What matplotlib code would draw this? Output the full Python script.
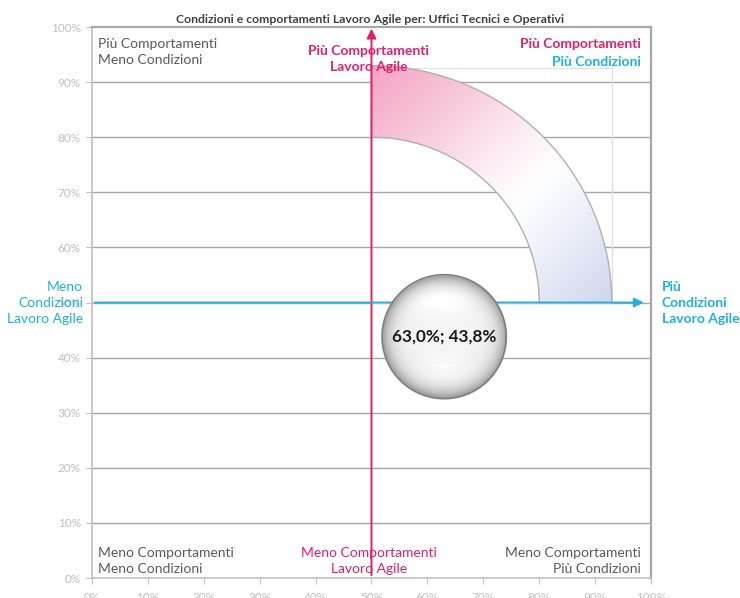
import numpy as np
import matplotlib
matplotlib.use("Agg")
import matplotlib.pyplot as plt
from matplotlib.patches import Wedge, Rectangle
import matplotlib.colors as mcolors

plt.rcParams['font.family'] = ['Lato', 'DejaVu Sans']

title = "Condizioni e comportamenti Lavoro Agile per: Uffici Tecnici e Operativi"
x_ticks = [0, 10, 20, 30, 40, 50, 60, 70, 80, 90, 100]
y_ticks = [0, 10, 20, 30, 40, 50, 60, 70, 80, 90, 100]
tick_labels = ["0%", "10%", "20%", "30%", "40%", "50%", "60%", "70%", "80%", "90%", "100%"]
# bubble value (condizioni, comportamenti)
bubble_x = 63.0
bubble_y = 43.8
bubble_label = "63,0%; 43,8%"
# band of the "target" area
arc_inner = 30
arc_outer = 43

pink = "#e31f6b"
blue = "#1fb0e6"
gray_txt = "#595959"
tick_col = "#bfbfbf"

fig = plt.figure(figsize=(7.4, 5.98), dpi=100)
ax = fig.add_axes([0.1243, 0.0334, 0.7554, 0.9214])
ax.set_xlim(0, 100)
ax.set_ylim(0, 100)

for s in ['left', 'bottom']:
    ax.spines[s].set_color("#bfbfbf")
    ax.spines[s].set_linewidth(1.2)
for s in ['top', 'right']:
    ax.spines[s].set_color("#a6a6a6")
    ax.spines[s].set_linewidth(1.6)

ax.set_xticks(x_ticks)
ax.set_yticks(y_ticks)
ax.set_xticklabels(tick_labels, color=tick_col, fontsize=8.5)
ax.set_yticklabels(tick_labels, color=tick_col, fontsize=8.5)
ax.tick_params(axis='x', length=4, color=tick_col, pad=6)
ax.tick_params(axis='y', length=4, color=tick_col, pad=4)
for y in y_ticks[1:-1]:
    ax.axhline(y, color="#a6a6a6", lw=1.0, zorder=1)

# frame around the band area
ax.add_patch(Rectangle((50, 50), arc_outer, arc_outer - 0.4,
                       fill=False, ec="#e0e0e0", lw=0.9, zorder=1.5))

# gradient band
wedge = Wedge((50, 50), arc_outer, 0, 90, width=arc_outer - arc_inner,
              fc="none", ec="#b0b0b0", lw=1.0, zorder=3)
ax.add_patch(wedge)
gx, gy = np.meshgrid(np.linspace(0, 1, 200), np.linspace(0, 1, 200))
t = np.clip((gx + gy) / 2, 0, 1)
cmap = mcolors.LinearSegmentedColormap.from_list(
    "band", [(0, "#f4a3c3"), (0.25, "#f8cade"), (0.5, "#fdf4f8"), (0.6, "#ffffff"), (1, "#cfd7ec")])
img = ax.imshow(cmap(t), extent=(50, 50 + arc_outer, 50, 50 + arc_outer),
                origin='upper', aspect='auto', zorder=2)
img.set_clip_path(wedge)

# axes arrows
ax.annotate("", xy=(50, 100.2), xytext=(50, 0), zorder=4, annotation_clip=False,
            arrowprops=dict(arrowstyle="-|>", color=pink, lw=1.4, mutation_scale=14))
ax.annotate("", xy=(99.2, 50), xytext=(0, 50), zorder=4, annotation_clip=False,
            arrowprops=dict(arrowstyle="-|>", color=blue, lw=1.4, mutation_scale=14))

# bubble as a shaded sphere
rx = 62 / 5.58
ry = 62 / 5.51
n = 300
u, v = np.meshgrid(np.linspace(-1, 1, n), np.linspace(1, -1, n))
r = np.sqrt(u ** 2 + v ** 2)
shade = 0.96 - 0.36 * r ** 7
hl = np.exp(-((u + 0.05) ** 2 / 0.25 + (v - 0.62) ** 2 / 0.04))
shade = shade + 0.06 * hl
low = np.exp(-((u) ** 2 / 0.3 + (v + 0.6) ** 2 / 0.05))
shade = shade + 0.04 * low - 0.04 * np.clip(-v, 0, 1) * (r > 0.5)
shade = np.clip(shade, 0, 1)
rgba = np.zeros((n, n, 4))
rgba[..., 0] = shade
rgba[..., 1] = shade
rgba[..., 2] = shade
rgba[..., 3] = np.clip((1 - r) * n / 2, 0, 1)
ax.imshow(rgba, extent=(bubble_x - rx, bubble_x + rx, bubble_y - ry, bubble_y + ry),
          aspect='auto', zorder=5, interpolation='bilinear')
th = np.linspace(0, 2 * np.pi, 300)
ax.plot(bubble_x + rx * np.cos(th), bubble_y + ry * np.sin(th), color="#7f7f7f", lw=1.2, zorder=6)
ax.text(bubble_x, bubble_y, bubble_label, ha='center', va='center', fontsize=12.3,
        fontweight='bold', color="#1a1a1a", zorder=7)

# title
fig.text(0.5, 0.967, title, ha='center', va='center', fontsize=8.8, fontweight='bold', color="#404040")

# quadrant texts
fs = 10
ax.text(1, 98, "Più Comportamenti\nMeno Condizioni", ha='left', va='top', fontsize=fs,
        color=gray_txt, linespacing=1.4)
ax.text(98.2, 98, "Più Comportamenti", ha='right', va='top', fontsize=fs,
        color=pink, fontweight='bold')
ax.text(98.2, 94.8, "Più Condizioni", ha='right', va='top', fontsize=fs,
        color=blue, fontweight='bold')
ax.text(1, 0.5, "Meno Comportamenti\nMeno Condizioni", ha='left', va='bottom', fontsize=fs,
        color=gray_txt, linespacing=1.4)
ax.text(98.2, 0.5, "Meno Comportamenti\nPiù Condizioni", ha='right', va='bottom', fontsize=fs,
        color=gray_txt, linespacing=1.4)
ax.text(49.5, 0.5, "Meno Comportamenti\nLavoro Agile", ha='center', va='bottom', fontsize=fs,
        color=pink, linespacing=1.4)
ax.text(49.5, 96.8, "Più Comportamenti\nLavoro Agile", ha='center', va='top', fontsize=fs,
        color=pink, fontweight='bold', linespacing=1.4)
ax.text(-1.6, 50, "Meno\nCondizioni\nLavoro Agile", ha='right', va='center', fontsize=fs,
        color=blue, linespacing=1.4)
ax.text(101.9, 50, "Più\nCondizioni\nLavoro Agile", ha='left', va='center', fontsize=fs,
        color=blue, fontweight='bold', linespacing=1.4, clip_on=False)

fig.savefig("out.png", dpi=100)
